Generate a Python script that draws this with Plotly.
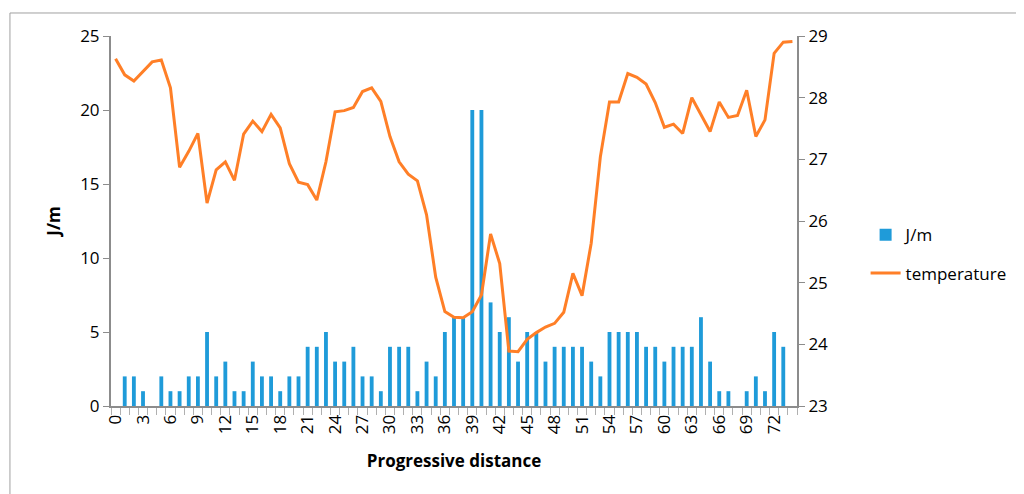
import plotly.graph_objects as go

# progressive distance categories 0..74
distance = list(range(75))

jm = [0, 2, 2, 1, 0, 2, 1, 1, 2, 2,
      5, 2, 3, 1, 1, 3, 2, 2, 1, 2,
      2, 4, 4, 5, 3, 3, 4, 2, 2, 1,
      4, 4, 4, 1, 3, 2, 5, 6, 6, 20,
      20, 7, 5, 6, 3, 5, 5, 3, 4, 4,
      4, 4, 3, 2, 5, 5, 5, 5, 4, 4,
      3, 4, 4, 4, 6, 3, 1, 1, 0, 1,
      2, 1, 5, 4, 0]

temperature = [28.63, 28.37, 28.27, 28.42, 28.58, 28.61, 28.16, 26.87, 27.13, 27.42,
               26.29, 26.83, 26.96, 26.66, 27.41, 27.62, 27.45, 27.73, 27.51, 26.93,
               26.63, 26.59, 26.34, 26.96, 27.77, 27.79, 27.84, 28.10, 28.16, 27.94,
               27.37, 26.96, 26.76, 26.65, 26.10, 25.09, 24.53, 24.44, 24.43, 24.53,
               24.80, 25.79, 25.31, 23.89, 23.88, 24.08, 24.19, 24.28, 24.34, 24.52,
               25.15, 24.79, 25.64, 27.04, 27.93, 27.93, 28.39, 28.33, 28.22, 27.92,
               27.52, 27.57, 27.42, 28.00, 27.72, 27.45, 27.93, 27.68, 27.71, 28.12,
               27.37, 27.64, 28.72, 28.90, 28.91]

FONT = "Open Sans, sans-serif"
AXIS_GRAY = "#8c8c8c"

fig = go.Figure()

fig.add_trace(go.Bar(
    x=distance, y=jm, name="J/m",
    marker=dict(color="#1f9bd9", line=dict(width=0)),
    width=0.42, legendgroup="a",
))

fig.add_trace(go.Scatter(
    x=distance, y=temperature, name="temperature", yaxis="y2",
    mode="lines", line=dict(color="#ff7f27", width=3),
    legendgroup="b",
))

fig.update_layout(
    width=1016, height=486,
    margin=dict(l=103, r=227, t=28, b=88, autoexpand=False),
    paper_bgcolor="white", plot_bgcolor="white",
    font=dict(family=FONT, size=17, color="black"),
    showlegend=True,
    legend=dict(x=1.10, y=0.51, xanchor="left", yanchor="top",
                font=dict(size=17), traceorder="grouped", tracegroupgap=13),
    xaxis=dict(
        range=[-0.5, 74.5], tickmode="linear", tick0=0, dtick=3,
        tickangle=-90, ticks="", showgrid=False, zeroline=False,
        showline=True, linecolor=AXIS_GRAY, linewidth=2, automargin=False,
        minor=dict(ticks="outside", tick0=0.5, dtick=1, ticklen=7,
                   tickcolor="#b0b0b0", tickwidth=1, showgrid=False),
        title=dict(text="<b>Progressive distance</b>", standoff=22,
                   font=dict(size=17)),
        tickfont=dict(size=17),
    ),
    yaxis=dict(
        range=[0, 25], dtick=5, showgrid=False, zeroline=False,
        showline=True, linecolor=AXIS_GRAY, linewidth=2, automargin=False,
        ticks="outside", ticklen=6, tickcolor=AXIS_GRAY,
        title=dict(text="<b>J/m</b>", standoff=15, font=dict(size=17)),
        tickfont=dict(size=17),
    ),
    yaxis2=dict(
        range=[23, 29], dtick=1, overlaying="y", side="right",
        showgrid=False, zeroline=False, automargin=False,
        showline=True, linecolor=AXIS_GRAY, linewidth=2,
        ticks="outside", ticklen=6, tickcolor=AXIS_GRAY,
        tickfont=dict(size=17),
    ),
    shapes=[dict(type="rect", xref="paper", yref="paper",
                 x0=-0.1473, x1=1.6, y0=-0.6, y1=1.0622,
                 line=dict(color="#a0a0a0", width=1), layer="below")],
)

fig.write_html("out.html")
